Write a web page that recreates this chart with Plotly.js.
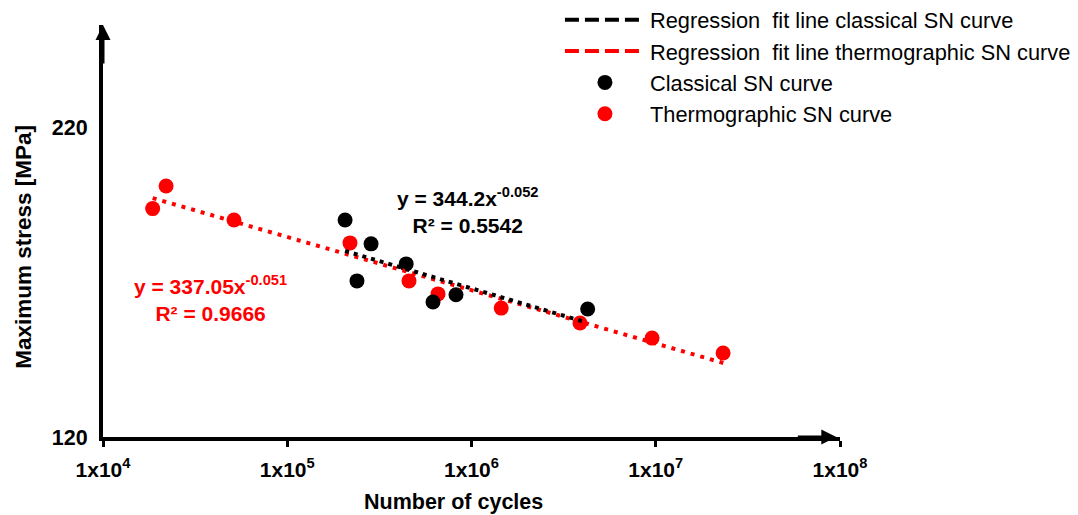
<!DOCTYPE html>
<html><head><meta charset="utf-8">
<script src="https://cdn.plot.ly/plotly-3.0.1.min.js"></script>
<style>html,body{margin:0;padding:0;background:#fff}#chart{width:1078px;height:515px}</style>
</head><body><div id="chart"></div>
<script>
// Data
const classicalX = [2.06e5, 2.85e5, 2.39e5, 4.42e5, 6.18e5, 8.24e5, 4.27e6];
const classicalY = [190.2, 182.5, 170.5, 176.0, 163.7, 166.0, 161.4];
const thermoX = [1.86e4, 2.20e4, 5.14e4, 2.19e5, 4.58e5, 6.58e5, 1.45e6, 3.88e6, 9.55e6, 2.32e7];
const thermoY = [193.9, 201.2, 190.2, 182.8, 170.5, 166.3, 161.7, 156.9, 152.0, 147.2];
const fitClassX = [2.06e5, 4.13e6];
const fitClassY = [180.2, 157.2];
const fitThermoX = [1.86e4, 2.34e7];
const fitThermoY = [197.3, 143.9];
const xTickVals = [1e4, 1e5, 1e6, 1e7, 1e8];
const xTickText = ['1x10<sup>4</sup>', '1x10<sup>5</sup>', '1x10<sup>6</sup>', '1x10<sup>7</sup>', '1x10<sup>8</sup>'];
const yTickVals = [120, 220];
const yTickText = ['120', '220'];
const legendNames = ['Regression  fit line classical SN curve', 'Regression  fit line thermographic SN curve', 'Classical SN curve', 'Thermographic SN curve'];

const arial = '"Liberation Sans", Arial, sans-serif';

const traces = [
  {x: thermoX, y: thermoY, type: 'scatter', mode: 'markers', name: legendNames[3], legendrank: 4,
   marker: {color: '#ff0000', size: 15}},
  {x: classicalX, y: classicalY, type: 'scatter', mode: 'markers', name: legendNames[2], legendrank: 3,
   marker: {color: '#000000', size: 15}},
  {x: fitThermoX, y: fitThermoY, type: 'scatter', mode: 'lines', showlegend: false,
   line: {color: '#ff0000', width: 4, dash: '4px,6px'}},
  {x: fitClassX, y: fitClassY, type: 'scatter', mode: 'lines', showlegend: false,
   line: {color: '#000000', width: 4, dash: '4px,5px'}},
  {x: [null], y: [null], type: 'scatter', mode: 'lines', name: legendNames[0], legendrank: 1,
   line: {color: '#000000', width: 4, dash: '14px,6px'}},
  {x: [null], y: [null], type: 'scatter', mode: 'lines', name: legendNames[1], legendrank: 2,
   line: {color: '#ff0000', width: 4, dash: '14px,6px'}}
];

const layout = {
  width: 1078, height: 515,
  margin: {l: 103, r: 238, t: 25, b: 78, pad: 0, autoexpand: false},
  paper_bgcolor: '#fff', plot_bgcolor: '#fff',
  showlegend: true,
  legend: {x: 0.62, y: 1.063, xanchor: 'left', yanchor: 'top', bgcolor: 'rgba(0,0,0,0)',
    font: {family: arial, size: 21.8, color: '#000'}, tracegroupgap: 0, itemwidth: 80},
  xaxis: {type: 'log', range: [4, 8], tickvals: xTickVals, ticktext: xTickText,
    showgrid: false, zeroline: false, showline: true, linecolor: '#000', linewidth: 4,
    ticks: 'outside', ticklen: 6, tickwidth: 3, tickcolor: '#000', ticklabelstandoff: 5,
    tickfont: {family: arial, size: 21, color: '#000', weight: 'bold'}},
  yaxis: {range: [120, 253.3], tickvals: yTickVals, ticktext: yTickText,
    showgrid: false, zeroline: false, showline: true, linecolor: '#000', linewidth: 4,
    ticks: '', ticklabelstandoff: 7,
    tickfont: {family: arial, size: 21.5, color: '#000', weight: 'bold'}},
  annotations: [
    {xref: 'paper', yref: 'paper', x: 0, y: 1, ax: 0, ay: 40,
     showarrow: true, arrowhead: 2, arrowsize: 1, arrowwidth: 3, arrowcolor: '#000', text: ''},
    {xref: 'paper', yref: 'paper', x: 0.995, y: 0, ax: -40, ay: 0,
     showarrow: true, arrowhead: 2, arrowsize: 1, arrowwidth: 3, arrowcolor: '#000', text: ''},
    {xref: 'paper', yref: 'paper', x: 0.475, y: -0.157, xanchor: 'center', yanchor: 'middle', showarrow: false,
     text: 'Number of cycles', font: {family: arial, size: 21.5, color: '#000', weight: 'bold'}},
    {xref: 'paper', yref: 'paper', x: -0.109, y: 0.461, xanchor: 'center', yanchor: 'middle', showarrow: false,
     textangle: -90, text: 'Maximum stress [MPa]', font: {family: arial, size: 22.5, color: '#000', weight: 'bold'}},
    {xref: 'paper', yref: 'paper', x: 0.495, y: 0.549, xanchor: 'center', yanchor: 'middle', showarrow: false,
     align: 'center', text: 'y = 344.2x<sup>-0.052</sup><br>R² = 0.5542',
     font: {family: arial, size: 21, color: '#000', weight: 'bold'}},
    {xref: 'paper', yref: 'paper', x: 0.1465, y: 0.335, xanchor: 'center', yanchor: 'middle', showarrow: false,
     align: 'center', text: 'y = 337.05x<sup>-0.051</sup><br>R² = 0.9666',
     font: {family: arial, size: 21, color: '#ff0000', weight: 'bold'}}
  ]
};

Plotly.newPlot('chart', traces, layout, {displayModeBar: false, staticPlot: true});
</script></body></html>
